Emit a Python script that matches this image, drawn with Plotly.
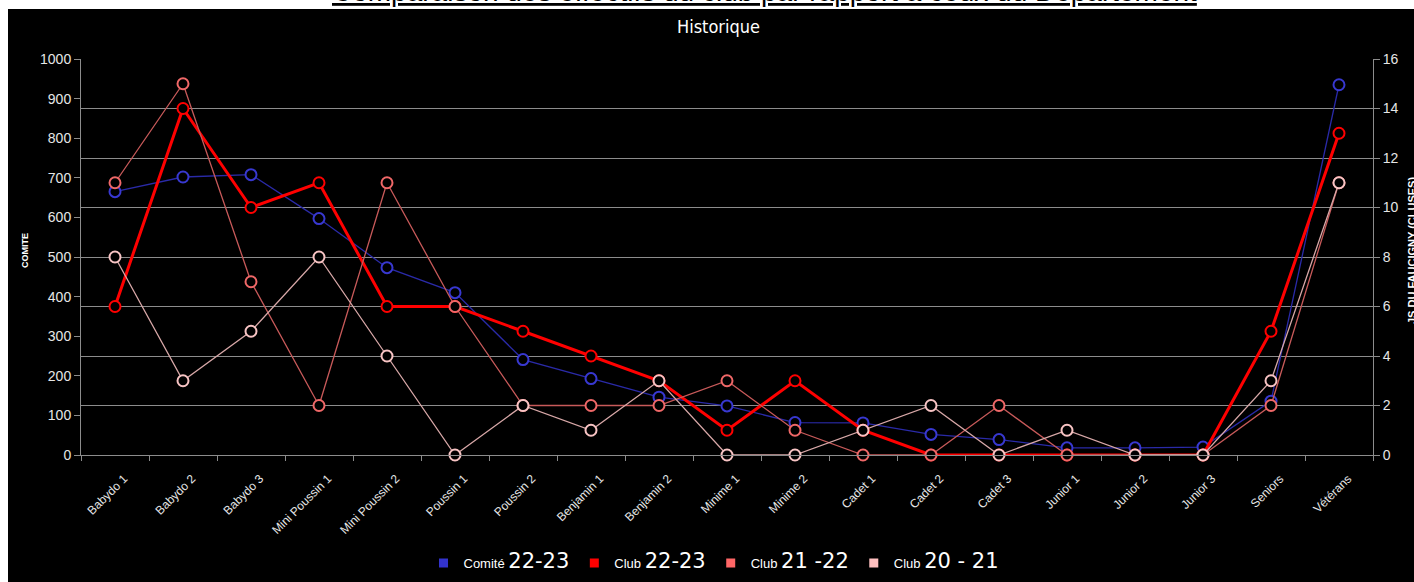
import plotly.graph_objects as go

categories = ["Babydo 1", "Babydo 2", "Babydo 3", "Mini Poussin 1", "Mini Poussin 2",
              "Poussin 1", "Poussin 2", "Benjamin 1", "Benjamin 2", "Minime 1", "Minime 2",
              "Cadet 1", "Cadet 2", "Cadet 3", "Junior 1", "Junior 2", "Junior 3",
              "Seniors", "Vétérans"]

comite_22_23 = [665, 702, 708, 597, 473, 410, 241, 193, 146, 124, 82, 81, 52, 39, 18, 18, 20, 136, 935]
club_22_23 = [6, 14, 10, 11, 6, 6, 5, 4, 3, 1, 3, 1, 0, 0, 0, 0, 0, 5, 13]
club_21_22 = [11, 15, 7, 2, 11, 6, 2, 2, 2, 3, 1, 0, 0, 2, 0, 0, 0, 2, 11]
club_20_21 = [8, 3, 5, 8, 4, 0, 2, 1, 3, 0, 0, 1, 2, 0, 1, 0, 0, 3, 11]

left_ticks = list(range(0, 1001, 100))
right_ticks = list(range(0, 17, 2))

# figure fills the page from its top-left corner and runs past the window edge
W, H = 1422, 590
L, R, T, B = 81, 49, 59, 135
PW, PH = W - L - R, H - T - B


def px(sx):
    return (sx - L) / PW


def py(sy):
    return (H - B - sy) / PH


hand = "font-family:DejaVu Sans;font-size:21px"
names = [
    f'Comité <span style="{hand}">22-23</span>',
    f'Club <span style="{hand}">22-23</span>',
    f'Club <span style="{hand}">21 -22</span>',
    f'Club <span style="{hand}">20 - 21</span>',
]
legend_colors = ["#3333cc", "#ff0000", "#ff6666", "#ffc0c0"]

series = [
    (comite_22_23, "y", "#2a2aa8", 1.3, "#3838d0"),
    (club_22_23, "y2", "#ff0000", 3, "#ff0000"),
    (club_21_22, "y2", "#c85a5a", 1.3, "#f06868"),
    (club_20_21, "y2", "#d8a8a8", 1.3, "#f8c4c4"),
]

fig = go.Figure()
for vals, yax, lc, lw, mc in series:
    fig.add_trace(go.Scatter(
        x=categories, y=vals, yaxis=yax, mode="lines+markers",
        line=dict(color=lc, width=lw),
        marker=dict(symbol="circle", size=11, color="black", line=dict(color=mc, width=2)),
        showlegend=False, cliponaxis=False,
    ))
for nm, c in zip(names, legend_colors):
    fig.add_trace(go.Scatter(
        x=[None], y=[None], mode="markers", name=nm,
        marker=dict(symbol="square", size=9, color=c),
    ))

axis_font = dict(family="Liberation Sans, Arial, sans-serif", size=14, color="#e6e6e6")

fig.update_layout(
    width=W, height=H,
    margin=dict(l=L, r=R, t=T, b=B),
    paper_bgcolor="white", plot_bgcolor="black",
    xaxis=dict(
        type="category", range=[-0.5, len(categories) - 0.5],
        showline=True, linecolor="#8c8c8c", linewidth=1,
        ticks="outside", tickcolor="#8c8c8c", ticklen=5, tickson="boundaries",
        showgrid=False, tickangle=-45, ticklabelshift=9, ticklabelstandoff=11,
        tickfont=dict(family="Liberation Sans, Arial, sans-serif", size=12, color="#e6e6e6"),
    ),
    yaxis=dict(
        range=[0, 1000], tickvals=left_ticks, showgrid=False,
        showline=True, linecolor="#8c8c8c", ticks="outside", tickcolor="#8c8c8c",
        ticklen=6, tickfont=axis_font, zeroline=False,
    ),
    yaxis2=dict(
        range=[0, 16], tickvals=right_ticks, overlaying="y", side="right",
        showgrid=True, gridcolor="#8c8c8c", gridwidth=1,
        showline=True, linecolor="#8c8c8c", ticks="outside", tickcolor="#8c8c8c",
        ticklen=6, tickfont=axis_font, zeroline=False,
    ),
    legend=dict(
        orientation="h", x=px(714), xanchor="center", y=py(563), yanchor="middle",
        font=dict(family="Liberation Sans, Arial, sans-serif", size=13, color="white"),
        bgcolor="rgba(0,0,0,0)",
    ),
    showlegend=True,
)

# black chart frame inside the white page border
fig.add_shape(type="rect", xref="paper", yref="paper", x0=px(8), x1=px(W + 5),
              y0=py(H + 5), y1=py(9), fillcolor="black", line_width=0, layer="below")

fig.add_annotation(
    text="<u>Comparaison des effectifs du club par rapport à ceux du Département</u>",
    xref="paper", yref="paper", x=px(764), y=py(-8.5), xanchor="center", yanchor="middle",
    showarrow=False, font=dict(family="Liberation Sans, Arial, sans-serif", size=28, color="black"),
)
fig.add_annotation(
    text="Historique", xref="paper", yref="paper", x=px(718), y=py(26),
    xanchor="center", yanchor="middle", showarrow=False,
    font=dict(family="Liberation Sans Narrow, DejaVu Sans Condensed, Liberation Sans, sans-serif",
              size=18, color="white"),
)
fig.add_annotation(
    text="<b>COMITE</b>", xref="paper", yref="paper", x=px(25), y=py(251),
    xanchor="center", yanchor="middle", textangle=-90, showarrow=False,
    font=dict(family="Liberation Sans, Arial, sans-serif", size=9, color="white"),
)
fig.add_annotation(
    text="<b>JS DU FAUCIGNY (CLUSES)</b>", xref="paper", yref="paper", x=px(1412), y=py(250),
    xanchor="center", yanchor="middle", textangle=-90, showarrow=False,
    font=dict(family="Liberation Sans, Arial, sans-serif", size=11, color="white"),
)

fig.write_html("out.html", config={"displayModeBar": False},
               post_script="document.body.style.margin='0';")
